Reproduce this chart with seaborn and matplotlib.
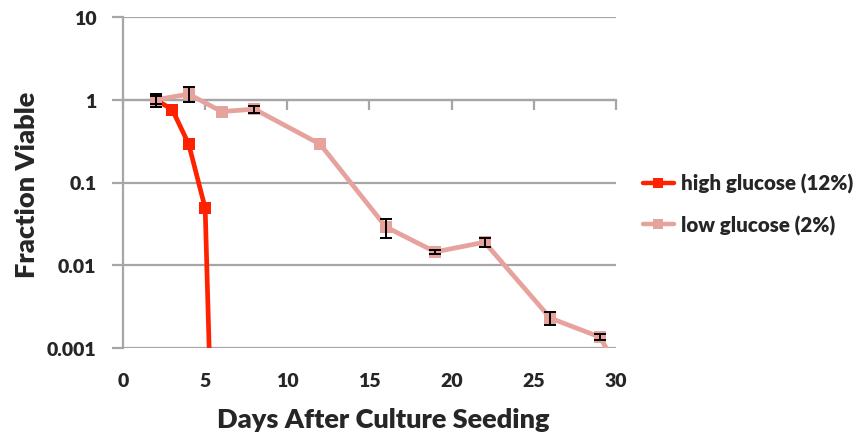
import numpy as np
import pandas as pd
import matplotlib
matplotlib.use("Agg")
import matplotlib.pyplot as plt
import seaborn as sns
from matplotlib.lines import Line2D

# ---- data ----
high_days = [2, 3, 4, 5, 6]
high_viable = [1.0, 0.76, 0.29, 0.049, 5e-9]
high_err = [0.1, 0.0, 0.0, 0.0, 0.0]

low_days = [2, 4, 6, 8, 12, 16, 19, 22, 26, 29, 30]
low_viable = [1.0, 1.17, 0.72, 0.77, 0.29, 0.029, 0.0145, 0.0190, 0.0023, 0.00136, 0.00064]
low_err = [0.18, 0.24, 0.0, 0.08, 0.0, 0.0075, 0.001, 0.0025, 0.0004, 0.0001, 0.0]

series_names = ["high glucose (12%)", "low glucose (2%)"]
series_colors = ["#ff2200", "#e6a39e"]

x_ticks = [0, 5, 10, 15, 20, 25, 30]
y_ticks = [0.001, 0.01, 0.1, 1, 10]
y_tick_labels = ["0.001", "0.01", "0.1", "1", "10"]

x_label = "Days After Culture Seeding"
y_label = "Fraction Viable"

# ---- style ----
sns.set_theme(style="white")
plt.rcParams["font.family"] = ["Lato", "DejaVu Sans"]
plt.rcParams["font.weight"] = "bold"
FW = "heavy"

W, H = 867, 439
fig = plt.figure(figsize=(W / 100, H / 100), dpi=100)
L, R, T, B = 123, 616, 18, 349
ax = fig.add_axes([L / W, 1 - B / H, (R - L) / W, (B - T) / H])

df = pd.concat([
    pd.DataFrame({"day": high_days, "viable": high_viable, "series": series_names[0]}),
    pd.DataFrame({"day": low_days, "viable": low_viable, "series": series_names[1]}),
], ignore_index=True)

ax.set_yscale("log")
grid_color = "#a6a6a6"
for yt in y_ticks:
    ax.axhline(yt, color=grid_color, lw=1.6, zorder=0.5)

sns.lineplot(data=df, x="day", y="viable", hue="series", hue_order=series_names,
             palette=series_colors, marker="s", markersize=9, markeredgewidth=0,
             linewidth=3.4, dashes=False, legend=False, ax=ax, estimator=None, sort=False)


def draw_err(days, vals, errs):
    d = np.asarray(days, float)
    v = np.asarray(vals, float)
    e = np.asarray(errs, float)
    m = e > 0
    ax.errorbar(d[m], v[m], yerr=e[m], fmt="none", ecolor="black",
                elinewidth=1.4, capsize=4.5, capthick=1.4, zorder=5)


draw_err(high_days, high_viable, high_err)
draw_err(low_days, low_viable, low_err)

ax.set_xlim(0, 30)
ax.set_ylim(0.001, 10)
ax.set_xticks(x_ticks)
ax.set_xticklabels([str(t) for t in x_ticks])
ax.set_yticks(y_ticks)
ax.set_yticklabels(y_tick_labels)
ax.yaxis.set_minor_locator(matplotlib.ticker.NullLocator())

for s in ["top", "right", "bottom"]:
    ax.spines[s].set_visible(False)
ax.spines["left"].set_color(grid_color)
ax.spines["left"].set_linewidth(1.6)
ax.tick_params(axis="y", which="major", direction="out", length=8, width=1.6,
               color=grid_color, pad=11, labelsize=14, left=True)
ax.tick_params(axis="x", which="major", length=0, pad=17, labelsize=14)
for lbl in ax.get_xticklabels() + ax.get_yticklabels():
    lbl.set_fontweight(FW)

# horizontal axis crosses at y=1: tick marks there
sec = ax.secondary_xaxis(0.75)
sec.set_xticks(x_ticks, labels=[""] * len(x_ticks))
sec.xaxis.set_ticks_position("bottom")
sec.tick_params(axis="x", direction="out", length=7, width=1.6, color=grid_color,
                labelbottom=False, labeltop=False)
for s in sec.spines.values():
    s.set_color(grid_color)
    s.set_linewidth(1.6)

ax.set_xlabel(x_label, fontsize=19.5, fontweight=FW, va="center")
ax.xaxis.set_label_coords(0.527, -0.215)
ax.set_ylabel(y_label, fontsize=19.5, fontweight=FW, va="center")
ax.yaxis.set_label_coords(-0.195, 0.495)

handles = [Line2D([0], [0], color=c, lw=3.2, marker="s", markersize=7, markeredgewidth=0)
           for c in series_colors]
leg = fig.legend(handles, series_names, loc="center left",
                 bbox_to_anchor=(624 / W, 1 - 205 / H), frameon=False,
                 prop={"size": 14.8, "weight": FW}, handlelength=1.55,
                 handletextpad=0.3, labelspacing=1.05)

fig.savefig("out.png", dpi=100)
